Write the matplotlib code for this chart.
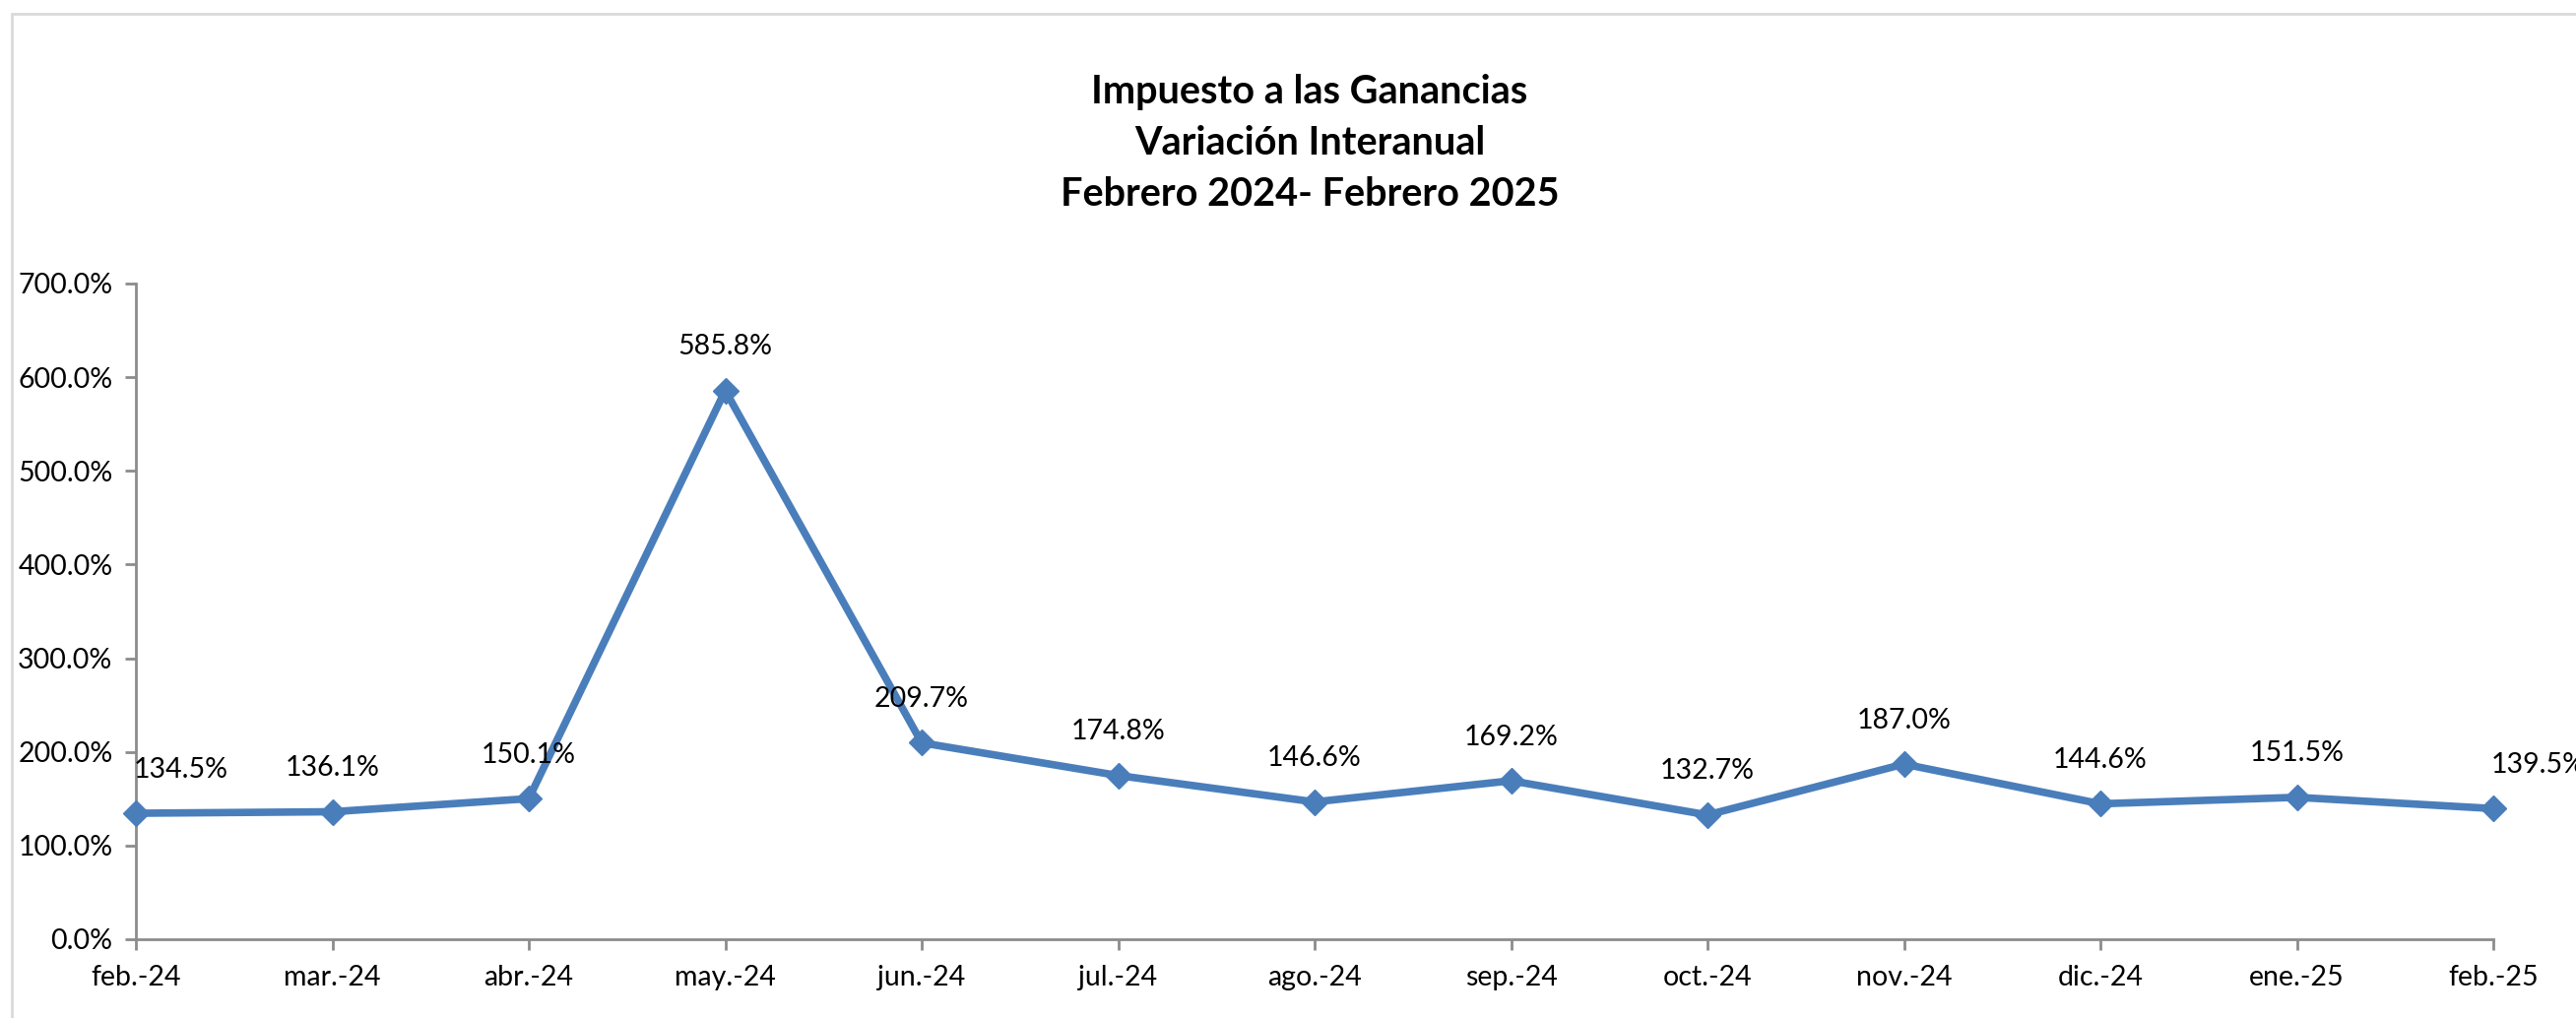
import matplotlib.pyplot as plt
from matplotlib.patches import Rectangle
from matplotlib.ticker import FuncFormatter

plt.rcParams['font.family'] = ['Lato', 'DejaVu Sans']

months = ['feb.-24', 'mar.-24', 'abr.-24', 'may.-24', 'jun.-24', 'jul.-24', 'ago.-24',
          'sep.-24', 'oct.-24', 'nov.-24', 'dic.-24', 'ene.-25', 'feb.-25']
variacion = [134.5, 136.1, 150.1, 585.8, 209.7, 174.8, 146.6,
             169.2, 132.7, 187.0, 144.6, 151.5, 139.5]
y_ticks = [0, 100, 200, 300, 400, 500, 600, 700]

blue = '#4a7ebb'
axis_gray = '#8c8c8c'

fig = plt.figure(figsize=(26.16, 10.34), dpi=100)

# chart frame (cut by the image on the right and bottom)
fig.patches.append(Rectangle((12 / 2616, -0.05), 1.2, 1 - 14 / 1034 + 0.05,
                             transform=fig.transFigure, fill=False,
                             edgecolor='#d9d9d9', linewidth=2))

ax = fig.add_axes([138 / 2616, 1 - 954 / 1034, (2532 - 138) / 2616, (954 - 288) / 1034])

x = list(range(len(months)))
ax.plot(x, variacion, color=blue, linewidth=5.5, marker='D', markersize=13.5,
        markerfacecolor=blue, markeredgecolor=blue, clip_on=False, zorder=3)

for i, v in enumerate(variacion):
    if i == 0 or i == len(variacion) - 1:
        ax.annotate(f'{v:.1f}%', (i, v), xytext=(-2, 32), textcoords='offset points',
                    ha='left', va='center', fontsize=20.5, annotation_clip=False)
    else:
        ax.annotate(f'{v:.1f}%', (i, v), xytext=(0, 32), textcoords='offset points',
                    ha='center', va='center', fontsize=20.5, annotation_clip=False)

ax.set_xlim(0, len(months) - 1)
ax.set_ylim(0, 700)
ax.set_xticks(x)
ax.set_xticklabels(months)
ax.set_yticks(y_ticks)
ax.yaxis.set_major_formatter(FuncFormatter(lambda v, p: f'{v:.1f}%'))

for s in ['top', 'right']:
    ax.spines[s].set_visible(False)
for s in ['left', 'bottom']:
    ax.spines[s].set_color(axis_gray)
    ax.spines[s].set_linewidth(2)
ax.tick_params(axis='both', colors=axis_gray, width=2, length=8, labelsize=20.5,
               labelcolor='black')
ax.tick_params(axis='x', pad=11)
ax.tick_params(axis='y', pad=9)

fig.text(1330 / 2616, 1 - 146 / 1034,
         'Impuesto a las Ganancias\nVariación Interanual\nFebrero 2024- Febrero 2025',
         ha='center', va='center', fontsize=28.5, fontweight='bold', linespacing=1.5)

fig.savefig('out.png', dpi=100)
